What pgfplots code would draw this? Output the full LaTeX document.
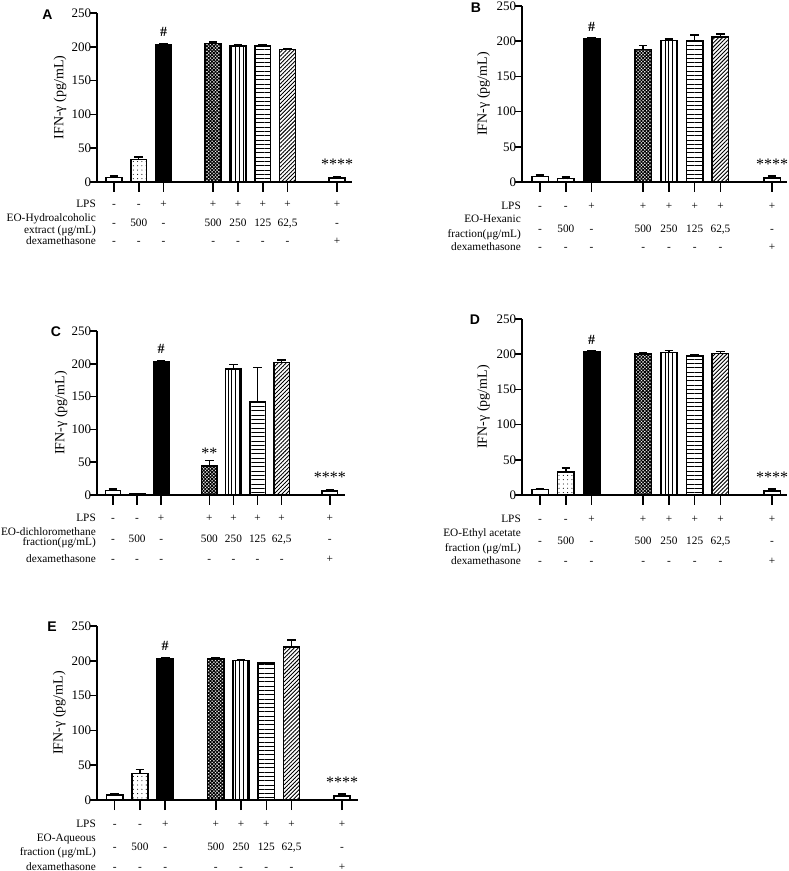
\documentclass[border=0pt]{standalone}
\usepackage{pgfplots}
\pgfplotsset{compat=1.18}
\usetikzlibrary{patterns.meta}
\usepackage{fontspec}
\setmainfont{Liberation Serif}
\newfontfamily\lettfont{Liberation Sans}

\tikzset{
  rw/.style={anchor=base, inner sep=0pt, font=\fontsize{11.3}{12}\selectfont},
  rwl/.style={anchor=base east, inner sep=0pt, xshift=-1pt, font=\fontsize{11.3}{12}\selectfont},
  ann/.style={anchor=base, inner sep=0pt, font=\fontsize{16}{16}\selectfont},
  hash/.style={anchor=base, inner sep=0pt, font=\bfseries\fontsize{14}{14}\selectfont},
  lett/.style={anchor=center, inner sep=0pt, font=\lettfont\bfseries\fontsize{14}{14}\selectfont},
  pW/.style={fill=white},
  pDot/.style={pattern={Dots[distance=4.3pt,radius=0.55pt]}},
  pBlk/.style={fill=black},
  pChk/.style={pattern={Hatch[angle=45,distance=2.4pt,line width=1pt]}},
  pV/.style={pattern={Lines[angle=90,distance=3.8pt,line width=0.9pt]}},
  pH/.style={pattern={Lines[angle=0,distance=4.3pt,line width=0.9pt]}},
  pD/.style={pattern={Lines[angle=45,distance=2.8pt,line width=0.9pt]}},
}

\pgfplotsset{
  errs/.style={
    error bars/.cd,
      y dir=plus, y explicit,
      error bar style={line width=1.4pt, black, solid},
      error mark options={rotate=90, line width=1.4pt, mark size=4.3pt, black, solid},
  },
  panel/.style={
    scale only axis,
    ymin=0, ymax=250, ytick={0,50,100,150,200,250},
    axis x line*=bottom, axis y line*=left,
    axis line style={line width=1.5pt, black},
    xtick={1,2,3,5,6,7,8,10},
    xticklabel style={text opacity=0},
    tick style={line width=1.5pt, black},
    ytick style={/pgfplots/major tick length=7pt},
    xtick style={/pgfplots/major tick length=10pt},
    tick align=outside,
    /pgf/number format/assume math mode=true,
    yticklabel style={font=\fontsize{13}{13}\selectfont, inner sep=1.5pt},
    ylabel={IFN-γ (pg/mL)},
    ylabel style={at={(axis description cs:-0.145,0.5)}, anchor=center, font=\fontsize{14}{14}\selectfont},
    clip=false,
    ybar, bar width=0.64,
    every axis plot/.append style={bar shift=0, line width=1.5pt, draw=black},
  }
}

% one row of the condition table: offset below the x axis, then 8 entries
\newcommand\prow[9]{%
  \node[rw] at (axis cs:1,0) [yshift=-#1] {#2};
  \node[rw] at (axis cs:2,0) [yshift=-#1] {#3};
  \node[rw] at (axis cs:3,0) [yshift=-#1] {#4};
  \node[rw] at (axis cs:5,0) [yshift=-#1] {#5};
  \node[rw] at (axis cs:6,0) [yshift=-#1] {#6};
  \node[rw] at (axis cs:7,0) [yshift=-#1] {#7};
  \node[rw] at (axis cs:8,0) [yshift=-#1] {#8};
  \node[rw] at (axis cs:10,0) [yshift=-#1] {#9};
}
\newcommand\rows[3]{%
  \prow{#1}{-}{-}{+}{+}{+}{+}{+}{+}
  \prow{#2}{-}{500}{-}{500}{250}{125}{62,5}{-}
  \prow{#3}{-}{-}{-}{-}{-}{-}{-}{+}
}
% left labels: LPS offset, line1 offset, line2 offset, dex offset, line1, line2
\newcommand\leftlabs[6]{%
  \node[rwl] at (rel axis cs:0,0) [yshift=-#1] {LPS};
  \node[rwl] at (rel axis cs:0,0) [yshift=-#2] {#5};
  \node[rwl] at (rel axis cs:0,0) [yshift=-#3] {#6};
  \node[rwl] at (rel axis cs:0,0) [yshift=-#4] {dexamethasone};
}

\begin{document}
\begin{tikzpicture}
\useasboundingbox (0,0) rectangle (789pt,871pt);

% ---------------- A ----------------
\begin{axis}[panel, at={(97pt,689pt)}, anchor=south west,
  width=255pt, height=169pt, xmin=0.314, xmax=10.6]
\addplot[pW,errs]   coordinates {(1,7) +- (0,2)};
\addplot[pDot,errs] coordinates {(2,33) +- (0,4)};
\addplot[pBlk,errs] coordinates {(3,203) +- (0,1.5)};
\addplot[pChk,errs] coordinates {(5,205) +- (0,2)};
\addplot[pV,errs]   coordinates {(6,201) +- (0,1.5)};
\addplot[pH,errs]   coordinates {(7,201) +- (0,1.5)};
\addplot[pD,errs]   coordinates {(8,196) +- (0,1)};
\addplot[pW,errs]   coordinates {(10,6) +- (0,2.5)};
\node[hash] at (axis cs:3,204.5) [yshift=7pt] {\#};
\node[ann] at (axis cs:10,8.5) [yshift=7pt] {****};
\node[lett] at (rel axis cs:0,1) [xshift=-49.5pt, yshift=-1.5pt] {A};
\rows{26pt}{45pt}{63pt}
\leftlabs{26pt}{40pt}{51.5pt}{63pt}{EO-Hydroalcoholic}{extract (μg/mL)}
\end{axis}

% ---------------- B ----------------
\begin{axis}[panel, at={(522pt,689pt)}, anchor=south west,
  width=265pt, height=176pt, xmin=0.30, xmax=10.58]
\addplot[pW,errs]   coordinates {(1,8) +- (0,2)};
\addplot[pDot,errs] coordinates {(2,5) +- (0,2)};
\addplot[pBlk,errs] coordinates {(3,203) +- (0,1.5)};
\addplot[pChk,errs] coordinates {(5,188) +- (0,6)};
\addplot[pV,errs]   coordinates {(6,201) +- (0,2)};
\addplot[pH,errs]   coordinates {(7,200) +- (0,9)};
\addplot[pD,errs]   coordinates {(8,206) +- (0,4.5)};
\addplot[pW,errs]   coordinates {(10,6) +- (0,2.5)};
\node[hash] at (axis cs:3,204.5) [yshift=7pt] {\#};
\node[ann] at (axis cs:10,8.5) [yshift=7pt] {****};
\node[lett] at (rel axis cs:0,1) [xshift=-46pt, yshift=-1.5pt] {B};
\rows{28pt}{51pt}{69pt}
\leftlabs{28pt}{41pt}{56pt}{69pt}{EO-Hexanic}{fraction(μg/mL)}
\end{axis}

% ---------------- C ----------------
\begin{axis}[panel, at={(97pt,376pt)}, anchor=south west,
  width=248pt, height=164pt, xmin=0.336, xmax=10.63]
\addplot[pW,errs]   coordinates {(1,7) +- (0,2)};
\addplot[pDot,errs] coordinates {(2,1.5) +- (0,0.5)};
\addplot[pBlk,errs] coordinates {(3,203) +- (0,1.5)};
\addplot[pChk,errs] coordinates {(5,44) +- (0,9)};
\addplot[pV,errs]   coordinates {(6,192) +- (0,7)};
\addplot[pH,errs]   coordinates {(7,142) +- (0,52)};
\addplot[pD,errs]   coordinates {(8,202) +- (0,4)};
\addplot[pW,errs]   coordinates {(10,6) +- (0,2.5)};
\node[hash] at (axis cs:3,204.5) [yshift=7pt] {\#};
\node[ann] at (axis cs:5,53) [yshift=2pt] {**};
\node[ann] at (axis cs:10,8.5) [yshift=7pt] {****};
\node[lett] at (rel axis cs:0,1) [xshift=-41pt, yshift=-1pt] {C};
\rows{27pt}{48pt}{68pt}
\leftlabs{27pt}{41pt}{51pt}{68pt}{EO-dichloromethane}{fraction(μg/mL)}
\end{axis}

% ---------------- D ----------------
\begin{axis}[panel, at={(522pt,376pt)}, anchor=south west,
  width=265pt, height=176pt, xmin=0.30, xmax=10.58]
\addplot[pW,errs]   coordinates {(1,7.5) +- (0,1.5)};
\addplot[pDot,errs] coordinates {(2,33) +- (0,5.5)};
\addplot[pBlk,errs] coordinates {(3,203) +- (0,1.5)};
\addplot[pChk,errs] coordinates {(5,200) +- (0,2)};
\addplot[pV,errs]   coordinates {(6,202.5) +- (0,3)};
\addplot[pH,errs]   coordinates {(7,197.5) +- (0,1.5)};
\addplot[pD,errs]   coordinates {(8,201) +- (0,3)};
\addplot[pW,errs]   coordinates {(10,6) +- (0,2.5)};
\node[hash] at (axis cs:3,204.5) [yshift=7pt] {\#};
\node[ann] at (axis cs:10,8.5) [yshift=7pt] {****};
\node[lett] at (rel axis cs:0,1) [xshift=-47pt, yshift=-1pt] {D};
\rows{28pt}{50pt}{70pt}
\leftlabs{28pt}{42pt}{57pt}{70pt}{EO-Ethyl acetate}{fraction (μg/mL)}
\end{axis}

% ---------------- E ----------------
\begin{axis}[panel, at={(97pt,71pt)}, anchor=south west,
  width=261pt, height=174pt, xmin=0.30, xmax=10.63]
\addplot[pW,errs]   coordinates {(1,7) +- (0,2)};
\addplot[pDot,errs] coordinates {(2,38) +- (0,6)};
\addplot[pBlk,errs] coordinates {(3,203.5) +- (0,1.5)};
\addplot[pChk,errs] coordinates {(5,202.5) +- (0,1.5)};
\addplot[pV,errs]   coordinates {(6,200.5) +- (0,1.5)};
\addplot[pH,errs]   coordinates {(7,196.5) +- (0,1)};
\addplot[pD,errs]   coordinates {(8,220) +- (0,10)};
\addplot[pW,errs]   coordinates {(10,6) +- (0,2.5)};
\node[hash] at (axis cs:3,205) [yshift=7pt] {\#};
\node[ann] at (axis cs:10,8.5) [yshift=7pt] {****};
\node[lett] at (rel axis cs:0,1) [xshift=-45pt, yshift=-1pt] {E};
\rows{27pt}{50pt}{70pt}
\leftlabs{27pt}{41pt}{55pt}{70pt}{EO-Aqueous}{fraction (μg/mL)}
\end{axis}
\end{tikzpicture}
\end{document}
